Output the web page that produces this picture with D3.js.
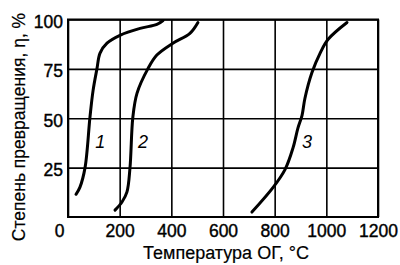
<!DOCTYPE html>
<html>
<head>
<meta charset="utf-8">
<script src="https://cdn.jsdelivr.net/npm/d3@7"></script>
<style>
  body { margin: 0; background: #fff; }
  text { font-family: 'Liberation Sans', Arial, sans-serif; fill: #000; }
</style>
</head>
<body>
<div id="chart"></div>
<script>
// curve data: temperature (°C) and conversion degree (%)
let curve1T = [31, 46, 66, 85, 97, 112, 124, 151, 201, 279, 344, 368]
let curve1E = [11.5, 15, 25, 50.5, 64, 75, 83, 88, 92, 95.5, 97.5, 99.5]

let curve2T = [182, 209, 228, 240, 251, 267, 309, 344, 406, 472, 503]
let curve2E = [3.5, 7.6, 12.6, 25, 50.5, 62.6, 75, 82, 88, 93, 98.5]

let curve3T = [712, 794, 840, 871, 890, 906, 917, 944, 976, 1007, 1080]
let curve3E = [2.5, 15, 24, 35, 45, 51.5, 60, 73, 83, 90, 98.5]

let curveNames = ['1', '2', '3']
let labelT = [125, 290, 925]
let labelE = [35, 35, 35]

let xTicks = [0, 200, 400, 600, 800, 1000, 1200]
let yTicks = [25, 50, 75, 100]

let margin = { top: 19.5, left: 68, right: 22, bottom: 48 }
let width = 400 - margin.left - margin.right
let height = 265 - margin.top - margin.bottom

let svg = d3
  .select('#chart')
  .append('svg')
  .attr('width', 400)
  .attr('height', 265)
  .append('g')
  .attr('transform', 'translate(' + margin.left + ',' + margin.top + ')')

let xScale = d3.scaleLinear().domain([0, 1200]).range([0, width])
let yScale = d3.scaleLinear().domain([0, 100]).range([height, 0])

// grid via axes
let xAxis = svg
  .append('g')
  .attr('transform', `translate(0,${height})`)
  .call(d3.axisBottom(xScale).tickValues(xTicks).tickFormat(d3.format('d'))
    .tickSize(-height).tickPadding(8).tickSizeOuter(0))
xAxis.select('.domain').remove()
xAxis.selectAll('line').attr('stroke', '#000').attr('stroke-width', 1.6)
xAxis.selectAll('text')
  .attr('font-size', 17.5)
  .attr('font-family', "'Liberation Sans', Arial, sans-serif")
  .attr('stroke', '#000')
  .attr('stroke-width', 0.4)
  .attr('text-anchor', d => d === 0 ? 'end' : 'middle')
  .attr('dx', d => d === 0 ? -4 : 0)

let yAxis = svg
  .append('g')
  .call(d3.axisLeft(yScale).tickValues(yTicks).tickSize(-width).tickPadding(5).tickSizeOuter(0))
yAxis.select('.domain').remove()
yAxis.selectAll('line').attr('stroke', '#000').attr('stroke-width', 1.6)
yAxis.selectAll('text')
  .attr('font-size', 17.5)
  .attr('font-family', "'Liberation Sans', Arial, sans-serif")
  .attr('stroke', '#000')
  .attr('stroke-width', 0.4)
  .attr('dy', '0.45em')

// frame
svg.append('rect')
  .attr('width', width)
  .attr('height', height)
  .attr('fill', 'none')
  .attr('stroke', '#000')
  .attr('stroke-width', 2)

let line = d3.line()
  .x(d => xScale(d[0]))
  .y(d => yScale(d[1]))
  .curve(d3.curveCatmullRom.alpha(0.5))

let curves = [
  d3.zip(curve1T, curve1E),
  d3.zip(curve2T, curve2E),
  d3.zip(curve3T, curve3E)
]

svg.selectAll('.curve')
  .data(curves)
  .enter()
  .append('path')
  .attr('class', 'curve')
  .attr('d', line)
  .attr('fill', 'none')
  .attr('stroke', '#000')
  .attr('stroke-width', 3)
  .attr('stroke-linecap', 'round')

svg.selectAll('.curve-label')
  .data(curveNames)
  .enter()
  .append('text')
  .attr('class', 'curve-label')
  .attr('x', (d, i) => xScale(labelT[i]))
  .attr('y', (d, i) => yScale(labelE[i]))
  .attr('text-anchor', 'middle')
  .attr('font-size', 18)
  .attr('font-style', 'italic')
  .text(d => d)

// axis titles
svg.append('text')
  .attr('x', 226 - margin.left)
  .attr('y', height + 42)
  .attr('text-anchor', 'middle')
  .attr('font-size', 18)
  .attr('stroke', '#000')
  .attr('stroke-width', 0.2)
  .text('Температура ОГ, °С')

svg.append('text')
  .attr('transform', `translate(${25 - margin.left},${127 - margin.top}) rotate(-90)`)
  .attr('text-anchor', 'middle')
  .attr('font-size', 17.5)
  .attr('stroke', '#000')
  .attr('stroke-width', 0.2)
  .text('Степень превращения, η, %')
</script>
</body>
</html>
